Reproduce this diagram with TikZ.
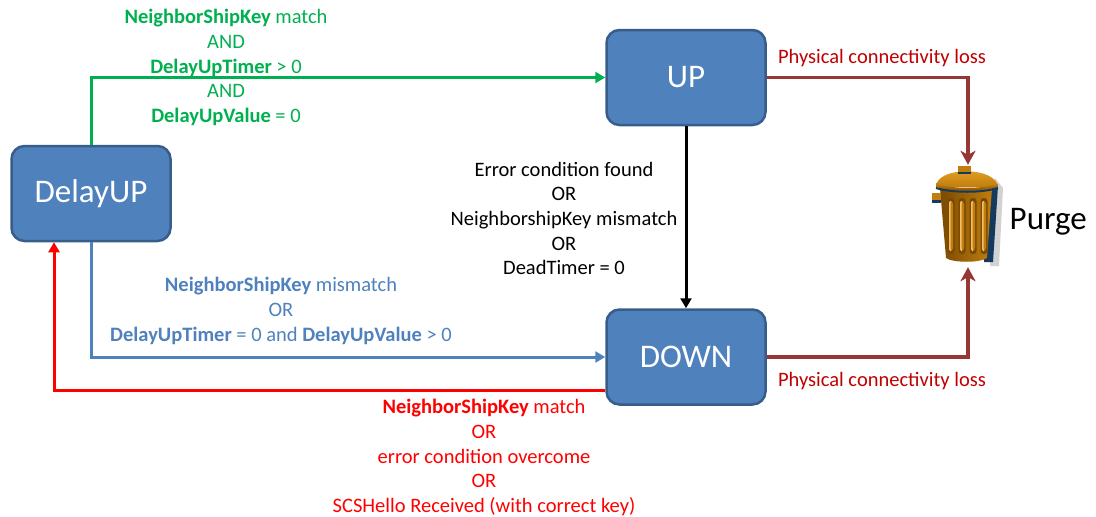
\documentclass[tikz,border=0pt]{standalone}
\usepackage{fontspec}
\setmainfont{Carlito}
\usetikzlibrary{arrows.meta, positioning}

\definecolor{boxfill}{HTML}{4F81BD}
\definecolor{boxline}{HTML}{385D8A}
\definecolor{okgreen}{HTML}{00B050}
\definecolor{losscol}{HTML}{953735}
\definecolor{losstext}{HTML}{C00000}
\definecolor{binlight}{HTML}{E9A52A}
\definecolor{binmid}{HTML}{C17E0C}
\definecolor{bindark}{HTML}{7A4A02}
\definecolor{binblue}{HTML}{163A5E}

\tikzset{
  state/.style={draw=boxline, fill=boxfill, line width=2.5pt, rounded corners=13pt,
    minimum width=159pt, minimum height=95pt, text=white,
    font=\fontsize{33}{40}\selectfont},
  cond/.style={align=center, inner sep=0pt, font=\fontsize{20.5}{24.6}\selectfont},
  trans/.style={line width=3pt, -{Triangle[length=10pt,width=11pt]}},
  lossline/.style={draw=losscol, line width=3.5pt, -{Stealth[length=14pt,width=15pt,inset=4pt]}},
}

\begin{document}
\begin{tikzpicture}[x=1pt, y=-1pt]
  \useasboundingbox (0,0) rectangle (1096,517);

  % the three states
  \node[state] (up) at (686,77.5) {UP};
  \node[state, below=182pt of up] (down) {DOWN};
  \node[state] (delay) at (91,193.5) {DelayUP};

  % the bin
  \node[minimum width=70pt, minimum height=102pt, inner sep=0pt] (bin) at (968,216) {};
  \node[font=\fontsize{33}{40}\selectfont, right=3pt of bin, yshift=-6pt] (purge) {Purge};
  \begin{scope}
    % shadows
    \fill[gray!35] (995,178) -- (1003,188) -- (999,266) -- (990,266) -- cycle;
    \fill[binblue] (988,186) -- (998,186) -- (993,262) -- (984,262) -- cycle;
    % body
    \shade[left color=bindark, middle color=binlight, right color=binmid]
      (940,188) -- (992,188) -- (987,258) .. controls (980,263) and (953,263) .. (946,258) -- cycle;
    % handle
    \fill[binmid] (932,193) rectangle (941,200);
    \fill[binblue] (932,200) rectangle (941,203);
    % ribs
    \foreach \rx in {951,962,973,984} {
      \fill[bindark, rounded corners=3pt] (\rx-3.5,198) rectangle (\rx+3.5,254);
      \fill[binlight!70!white, rounded corners=2pt] (\rx-2,201) rectangle (\rx+1,251);
      \fill[binmid, rounded corners=2pt] (\rx-0.5,202) rectangle (\rx+2,250);
    }
    % lid
    \shade[top color=binlight, bottom color=binmid]
      (936,187) .. controls (936,166) and (996,166) .. (998,187) -- cycle;
    \shade[top color=binmid, bottom color=bindark]
      (936,184) .. controls (952,189) and (982,189) .. (998,184) -- (998,187)
      .. controls (982,192) and (952,192) .. (936,187) -- cycle;
    \draw[binblue, line width=2pt]
      (936,188) .. controls (952,193) and (982,193) .. (998,188);
    \fill[binmid] (958,166) rectangle (971,172);
    \fill[binblue] (958,172) rectangle (971,174);
  \end{scope}

  % transition labels
  \node[cond, text=okgreen] (gocond) at (226,67.5)
    {\textbf{NeighborShipKey} match\\AND\\\textbf{DelayUpTimer} > 0\\AND\\\textbf{DelayUpValue} = 0};
  \node[cond, text=boxfill] (failcond) at (281,311)
    {\textbf{NeighborShipKey} mismatch\\OR\\\textbf{DelayUpTimer} = 0 and \textbf{DelayUpValue} > 0};
  \node[cond, text=red] (backcond) at (484,457.5)
    {\textbf{NeighborShipKey} match\\OR\\error condition overcome\\OR\\SCSHello Received (with correct key)};
  \node[cond] (errcond) at (564,218.5)
    {Error condition found\\OR\\NeighborshipKey mismatch\\OR\\DeadTimer = 0};
  \node[cond, text=losstext] (uploss) at (882,58) {Physical connectivity loss};
  \node[cond, text=losstext] (downloss) at (882,381) {Physical connectivity loss};

  % transitions
  \draw[trans, okgreen] (delay.north) |- (up.west);
  \draw[trans, boxfill] (delay.south) |- (down.west);
  \draw[trans, red] ([yshift=-33pt]down.west) -| ([xshift=-37pt]delay.south);
  \draw[trans, black] (up) -- (down);
  \draw[lossline] (up.east) -| (bin.north);
  \draw[lossline] (down.east) -| (bin.south);
\end{tikzpicture}
\end{document}
